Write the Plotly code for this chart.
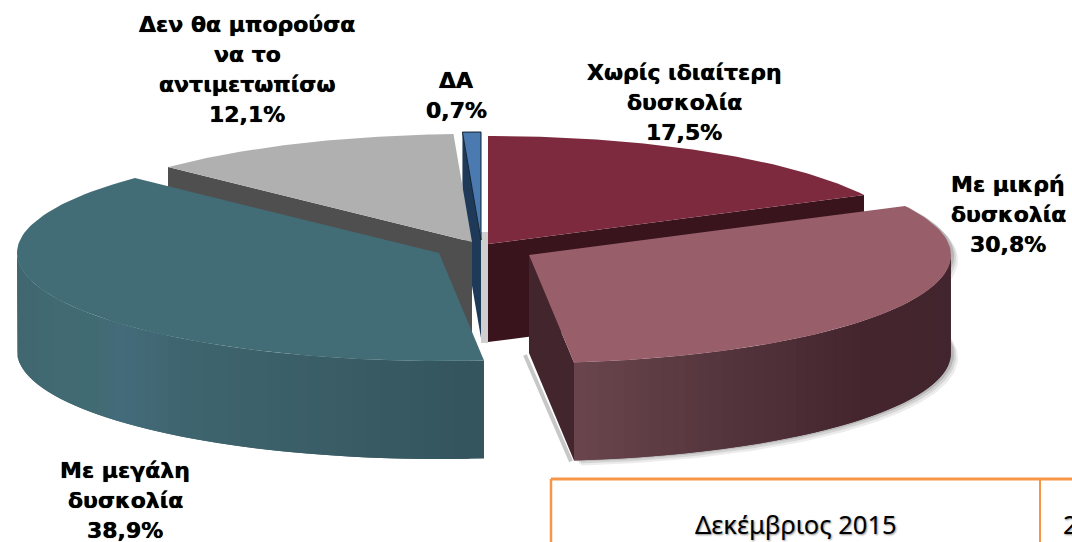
import numpy as np
import plotly.graph_objects as go

# --- data ---
categories = ["Χωρίς ιδιαίτερη δυσκολία", "Με μικρή δυσκολία", "Με μεγάλη δυσκολία",
              "Δεν θα μπορούσα να το αντιμετωπίσω", "ΔΑ"]
values = [17.5, 30.8, 38.9, 12.1, 0.7]
value_labels = ["17,5%", "30,8%", "38,9%", "12,1%", "0,7%"]
label_lines = [["Χωρίς ιδιαίτερη", "δυσκολία"], ["Με μικρή", "δυσκολία"], ["Με μεγάλη", "δυσκολία"],
               ["Δεν θα μπορούσα", "να το", "αντιμετωπίσω"], ["ΔΑ"]]
top_colors = ["#7d2a3e", "#985f6b", "#436d76", "#b0b0b0", "#4a7ab0"]
wall_colors = ["#3a141c", "#43252e", "#34555d", "#4f4f4f", "#1f3a58"]
table_labels = ["Δεκέμβριος 2015", "2"]

# --- projection of the pie ---
RX, RY, DEPTH = 422, 108, 98
apex = [(488, 244), (529, 255), (439, 253), (472, 242), (481, 240)]
label_pos = [(684, 72), (1008, 184), (125, 470), (247, 24), (456, 80)]
LINE_H = 30

fracs = np.array(values) / sum(values)
edges = np.concatenate([[0], np.cumsum(fracs)]) * 360


def rim(a, c):
    r = np.radians(a)
    return c[0] + RX * np.sin(r), c[1] - RY * np.cos(r)


fig = go.Figure()


def poly(xs, ys, color):
    fig.add_trace(go.Scatter(x=list(xs), y=list(ys), mode="lines", fill="toself", fillcolor=color,
                             line=dict(width=0, color=color), hoverinfo="skip", showlegend=False))


def top(i, color=None):
    a = np.linspace(edges[i], edges[i + 1], 90)
    x, y = rim(a, apex[i])
    poly([apex[i][0], *x, apex[i][0]], [apex[i][1], *y, apex[i][1]], color or top_colors[i])


def radial_wall(i, a):
    rx, ry = rim(a, apex[i])
    ax, ay = apex[i]
    poly([rx, ax, ax, rx, rx], [ry, ay, ay + DEPTH, ry + DEPTH, ry], wall_colors[i])


def lerp_hex(stops, t):
    ts = [s[0] for s in stops]
    rgb = [np.interp(t, ts, [int(s[1][k:k + 2], 16) for s in stops]) for k in (1, 3, 5)]
    return "rgb(%d,%d,%d)" % tuple(rgb)


def side(i, a0, a1, stops, n=48):
    aa = np.linspace(a0, a1, n + 1)
    for k in range(n):
        seg = np.linspace(aa[k], aa[min(k + 2, n)], 8)
        x, y = rim(seg, apex[i])
        xs = [*x, *x[::-1], x[0]]
        ys = [*y, *(y[::-1] + DEPTH), y[0]]
        poly(xs, ys, lerp_hex(stops, k / n))


def shadow(i, a0, a1):
    seg = np.linspace(a0, a1, 80)
    x, y = rim(seg, apex[i])
    for off, alpha in ((7, .10), (5, .14), (3, .2)):
        xs = [*(x + off), *(x[::-1] + off), x[0] + off]
        ys = [*(y + off - 2), *(y[::-1] + DEPTH + off - 2), y[0] + off - 2]
        poly(xs, ys, "rgba(70,70,70,%.2f)" % alpha)


# dark red slice
radial_wall(0, edges[1])
top(0)
# soft shadow beside the slice next to the centre
poly([481, 488, 488, 481, 481], [232, 232, 343, 343, 232], "#cfcfcf")
# blue slice wall
radial_wall(4, edges[4])
# grey slice
radial_wall(3, edges[3])
top(3)
top(4)
a = np.linspace(edges[4], edges[5], 8)
bx, by = rim(a, apex[4])
fig.add_trace(go.Scatter(x=[apex[4][0], *bx, apex[4][0]], y=[apex[4][1], *by, apex[4][1]], mode="lines",
                         line=dict(width=1, color="#10202f"), hoverinfo="skip", showlegend=False))
# teal slice
side(2, edges[2], 270,
     [(0, "#34555d"), (.2, "#3a5d66"), (.45, "#3f6670"), (.56, "#446b7a"), (.62, "#426c74"), (1, "#41666f")])
top(2)
# mauve slice
shadow(1, edges[1], edges[2])
side(1, 90, edges[2],
     [(0, "#42252e"), (.45, "#45262f"), (.7, "#52333b"), (1, "#6b464e")])
rmx, rmy = rim(edges[2], apex[1])
fig.add_trace(go.Scatter(x=[apex[1][0] - 4, rmx - 3], y=[apex[1][1] + DEPTH + 2, rmy + DEPTH + 1], mode="lines",
                         line=dict(width=4, color="rgba(70,70,70,.3)"), hoverinfo="skip", showlegend=False))
radial_wall(1, edges[2])
top(1)

# labels
ann = []
for lines, val, (cx, cy) in zip(label_lines, value_labels, label_pos):
    for j, t in enumerate(lines + [val]):
        ann.append(dict(x=cx, y=cy + j * LINE_H, text=t, showarrow=False, xanchor="center", yanchor="middle",
                        font=dict(family="DejaVu Sans", size=22, color="#000000", weight="bold",
                                  shadow="0 0 0.7px #000")))

# table fragment
ORANGE = "#f79646"
shapes = [dict(type="line", x0=551, x1=1072, y0=479, y1=479, line=dict(color=ORANGE, width=3)),
          dict(type="line", x0=551, x1=551, y0=479, y1=542, line=dict(color=ORANGE, width=2.5)),
          dict(type="line", x0=1040, x1=1040, y0=479, y1=542, line=dict(color=ORANGE, width=2))]
tfont = dict(family="Noto Sans", size=25.5, color="#000000", shadow="1px 1px 2px rgba(0,0,0,.45)")
ann.append(dict(x=796, y=524, text=table_labels[0], showarrow=False, xanchor="center", yanchor="middle", font=tfont))
ann.append(dict(x=1061, y=524, text=table_labels[1], showarrow=False, xanchor="left", yanchor="middle", font=tfont))

fig.update_layout(width=1072, height=542, margin=dict(l=0, r=0, t=0, b=0), paper_bgcolor="white",
                  plot_bgcolor="white", showlegend=False, annotations=ann, shapes=shapes,
                  xaxis=dict(range=[0, 1072], visible=False, fixedrange=True),
                  yaxis=dict(range=[542, 0], visible=False, fixedrange=True))
fig.write_html("out.html", config=dict(displayModeBar=False),
               post_script="document.body.style.margin='0';document.body.style.overflow='hidden';")
